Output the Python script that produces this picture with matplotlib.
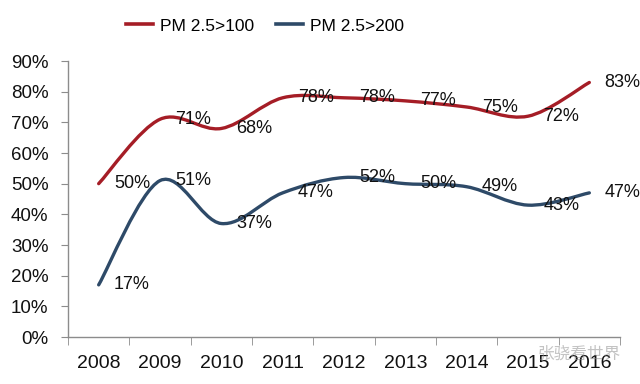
import numpy as np
import matplotlib
matplotlib.use('Agg')
import matplotlib.pyplot as plt
from matplotlib.path import Path
from matplotlib.patches import PathPatch
from matplotlib.lines import Line2D

plt.rcParams['font.family'] = ['Liberation Sans', 'DejaVu Sans']

years = ['2008', '2009', '2010', '2011', '2012', '2013', '2014', '2015', '2016']
pm100 = [50, 71, 68, 78, 78, 77, 75, 72, 83]
pm200 = [17, 51, 37, 47, 52, 50, 49, 43, 47]
series_names = ['PM 2.5>100', 'PM 2.5>200']
colors = ['#A51D26', '#2E4A68']
yticks = [0, 10, 20, 30, 40, 50, 60, 70, 80, 90]


def smooth_path(xs, ys):
    # Excel-like smoothed line: cubic bezier segments through every point
    pts = np.column_stack([xs, ys]).astype(float)
    verts = [pts[0]]
    codes = [Path.MOVETO]
    n = len(pts)
    for i in range(n - 1):
        p0 = pts[i - 1] if i > 0 else pts[i]
        p1 = pts[i]
        p2 = pts[i + 1]
        p3 = pts[i + 2] if i + 2 < n else pts[i + 1]
        c1 = p1 + (p2 - p0) / 6.0
        c2 = p2 - (p3 - p1) / 6.0
        verts += [c1, c2, p2]
        codes += [Path.CURVE4] * 3
    return Path(verts, codes)


fig = plt.figure(figsize=(6.4, 3.84), dpi=100)
ax = fig.add_axes([68 / 640, 1 - 337 / 384, 552 / 640, 276 / 384])

x = np.arange(len(years))
for vals, c in zip([pm100, pm200], colors):
    y = np.array(vals) / 100.0
    ax.add_patch(PathPatch(smooth_path(x, y), facecolor='none', edgecolor=c,
                           lw=2.4, capstyle='round', joinstyle='round'))
    for xi, yi, v in zip(x, y, vals):
        ax.annotate('%d%%' % v, (xi, yi), xytext=(11, 0), textcoords='offset points',
                    ha='left', va='center', fontsize=13, color='#111111')

ax.set_xlim(-0.5, len(years) - 0.5)
ax.set_ylim(0, 0.9)
ax.set_yticks([t / 100 for t in yticks])
ax.set_yticklabels(['%d%%' % t for t in yticks], fontsize=13.5, color='#111111')
ax.set_xticks(x)
ax.set_xticklabels(years, fontsize=14, color='#111111')
ax.set_xticks(np.arange(-0.5, len(years)), minor=True)
ax.tick_params(axis='x', which='major', length=0, pad=13)
ax.tick_params(axis='x', which='minor', length=6, color='#8C8C8C', direction='out')
ax.tick_params(axis='y', length=5, color='#8C8C8C', direction='out', pad=9)
for s in ['top', 'right']:
    ax.spines[s].set_visible(False)
for s in ['left', 'bottom']:
    ax.spines[s].set_color('#8C8C8C')
    ax.spines[s].set_linewidth(1)

handles = [Line2D([], [], color=c, lw=2.6) for c in colors]
fig.legend(handles, series_names, loc='center', bbox_to_anchor=(265 / 640, 1 - 26 / 384),
           ncol=2, frameon=False, fontsize=12.5, handlelength=1.55, handletextpad=0.4,
           columnspacing=1.3)

fig.text(0.905, 1 - 354 / 384, '张骁看世界', family=['Noto Sans CJK SC', 'DejaVu Sans'],
         fontsize=12, color='#888888', alpha=0.5, ha='center', va='center')

fig.savefig('out.png', dpi=100, facecolor='white')
